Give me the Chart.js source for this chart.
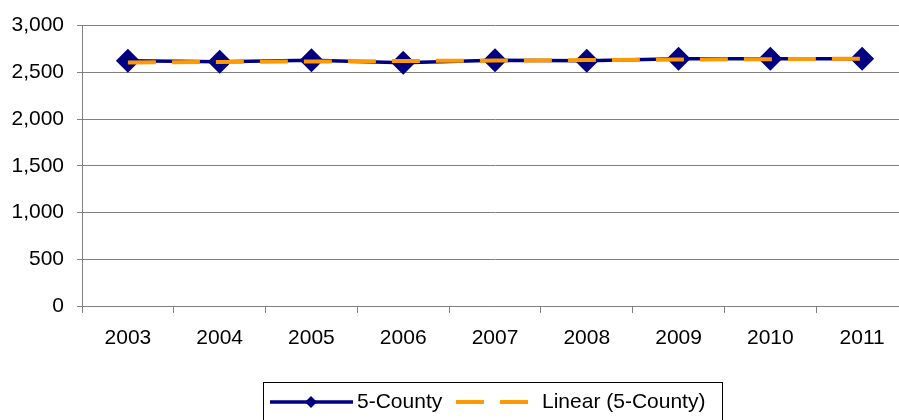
<!DOCTYPE html>
<html>
<head>
<meta charset="utf-8">
<script src="https://cdn.jsdelivr.net/npm/chart.js@4"></script>
<style>
  html, body { margin: 0; padding: 0; background: #fff; overflow: hidden; }
  #wrap { width: 899px; height: 420px; overflow: hidden; }
</style>
</head>
<body>
<div id="wrap"><canvas id="c" width="920" height="420"></canvas></div>
<script>
// 5-County totals by year
const years = ['2003', '2004', '2005', '2006', '2007', '2008', '2009', '2010', '2011'];
const countyValues = [2624, 2612, 2630, 2603, 2628, 2624, 2645, 2645, 2645];
const trendValues = [2606, 2611, 2616, 2621, 2626, 2631, 2636, 2641, 2646];
const yTicks = [0, 500, 1000, 1500, 2000, 2500, 3000];

const NAVY = '#000080';
const ORANGE = '#FF9900';
const GRID = '#808080';
const FONT = '"Liberation Sans", Arial, sans-serif';

// ─── Legend (drawn under the plot, Excel style) ─────────────────────────────

const legendPlugin = {
  id: 'xlLegend',
  afterDraw(chart) {
    const ctx = chart.ctx;
    ctx.save();
    ctx.strokeStyle = '#000';
    ctx.lineWidth = 1;
    ctx.strokeRect(263.5, 382.5, 459, 44);

    const y = 402;
    ctx.strokeStyle = NAVY;
    ctx.lineWidth = 3.5;
    ctx.beginPath();
    ctx.moveTo(270, y);
    ctx.lineTo(353, y);
    ctx.stroke();
    ctx.fillStyle = NAVY;
    ctx.beginPath();
    ctx.moveTo(311, y - 6);
    ctx.lineTo(317, y);
    ctx.lineTo(311, y + 6);
    ctx.lineTo(305, y);
    ctx.closePath();
    ctx.fill();

    ctx.strokeStyle = ORANGE;
    ctx.lineWidth = 4;
    ctx.beginPath();
    ctx.moveTo(456, y); ctx.lineTo(484, y);
    ctx.moveTo(500, y); ctx.lineTo(528, y);
    ctx.stroke();

    ctx.fillStyle = '#000';
    ctx.font = '21px ' + FONT;
    ctx.textBaseline = 'middle';
    ctx.textAlign = 'left';
    ctx.fillText('5-County', 357, y);
    ctx.fillText('Linear (5-County)', 542, y);
    ctx.restore();
  }
};

new Chart(document.getElementById('c'), {
  type: 'line',
  data: {
    labels: years,
    datasets: [
      {
        label: 'Linear (5-County)',
        data: trendValues,
        borderColor: ORANGE,
        borderWidth: 4,
        borderDash: [28, 16],
        pointRadius: 0,
        fill: false,
        tension: 0,
        order: 0,
      },
      {
        label: '5-County',
        data: countyValues,
        borderColor: NAVY,
        backgroundColor: NAVY,
        borderWidth: 3.5,
        pointStyle: 'rectRot',
        pointRadius: 12,
        pointBackgroundColor: NAVY,
        pointBorderColor: NAVY,
        pointBorderWidth: 0,
        fill: false,
        tension: 0,
        order: 1,
      }
    ]
  },
  options: {
    responsive: false,
    animation: false,
    events: [],
    layout: { padding: { top: 24, right: 3, left: 0, bottom: 0 } },
    plugins: {
      legend: { display: false },
      tooltip: { enabled: false },
    },
    scales: {
      x: {
        offset: true,
        grid: {
          offset: true,
          drawOnChartArea: false,
          drawTicks: true,
          tickLength: 7,
          color: GRID,
        },
        border: { display: true, color: GRID, width: 1 },
        ticks: {
          color: '#000',
          font: { family: FONT, size: 21 },
          padding: 13,
          maxRotation: 0,
        },
        afterFit: s => { s.height = 114; },
      },
      y: {
        min: 0,
        max: 3000,
        afterBuildTicks: s => { s.ticks = yTicks.map(v => ({ value: v })); },
        grid: {
          color: GRID,
          lineWidth: 1,
          drawTicks: true,
          tickLength: 5,
        },
        border: { display: true, color: GRID, width: 1 },
        ticks: {
          color: '#000',
          font: { family: FONT, size: 21 },
          padding: 13,
          callback: v => v.toLocaleString('en-US'),
        },
        afterFit: s => { s.width = 82; },
      }
    }
  },
  plugins: [legendPlugin]
});
</script>
</body>
</html>
